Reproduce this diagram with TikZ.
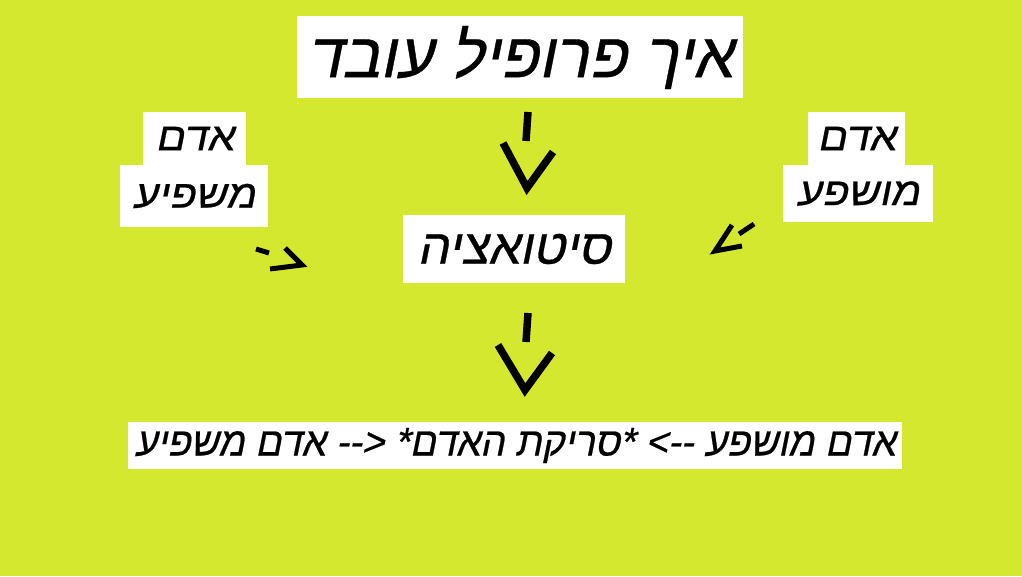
\documentclass[tikz,border=0pt]{standalone}
\usepackage{fontspec}
\usepackage{tikz}
\usetikzlibrary{positioning,calc}
\TeXXeTstate=1
\newfontfamily\titlefont[Script=Hebrew,Ligatures=TeXOff,FakeSlant=0.2,FakeStretch=1.0,FakeBold=0.6]{Liberation Sans}
\newfontfamily\midfont[Script=Hebrew,Ligatures=TeXOff,FakeSlant=0.2,FakeStretch=1.02,FakeBold=0.6]{Liberation Sans}
\newfontfamily\labelfont[Script=Hebrew,Ligatures=TeXOff,FakeSlant=0.2,FakeStretch=1.1,FakeBold=0.6]{Liberation Sans}
\newfontfamily\rowfont[Script=Hebrew,Ligatures=TeXOff,FakeSlant=0.2,FakeStretch=0.96,FakeBold=0.6]{Liberation Sans}
\definecolor{limebg}{RGB}{212,232,48}
\tikzset{
  whitebox/.style={fill=white,inner sep=0pt,anchor=center},
  arrowstroke/.style={line width=7.5pt,line cap=butt,line join=miter},
  sidestroke/.style={line width=5pt,line cap=butt,line join=miter}
}

\begin{document}
\begin{tikzpicture}[x=1pt,y=1pt]
\fill[limebg] (0,0) rectangle (1022,576);
\useasboundingbox (0,0) rectangle (1022,576);

\draw (520,518.5) node[whitebox,minimum width=446pt,minimum height=82pt,font=\titlefont\fontsize{63}{66}\selectfont] (title) {\beginR איך פרופיל עובד\endR};

\draw (514,327) node[whitebox,minimum width=222pt,minimum height=68pt,font=\midfont\fontsize{49}{52}\selectfont] (situation) {\beginR סיטואציה\endR};

% left label
\draw (194.5,437.5) node[whitebox,minimum width=103pt,minimum height=53pt,font=\labelfont\fontsize{39}{40}\selectfont] (leftup) {\raisebox{-2pt}{\beginR אדם\endR}};
\draw (194,380) node[whitebox,minimum width=148pt,minimum height=62pt,font=\labelfont\fontsize{39}{40}\selectfont] (leftdown) {\beginR משפיע\endR};

% right label
\draw (856.5,437.5) node[whitebox,minimum width=97pt,minimum height=53pt,font=\labelfont\fontsize{39}{40}\selectfont] (rightup) {\raisebox{-2pt}{\beginR אדם\endR}};
\draw (858,382.5) node[whitebox,minimum width=150pt,minimum height=57pt,font=\labelfont\fontsize{39}{40}\selectfont] (rightdown) {\beginR מושפע\endR};

\draw (515,130.5) node[whitebox,minimum width=774pt,minimum height=47pt,font=\rowfont\fontsize{40}{42}\selectfont] (result) {\raisebox{-3pt}{\beginR אדם מושפע --> *סריקת האדם* <-- אדם משפיע\endR}};

% arrows
\coordinate (t1) at (528,464);
\coordinate (t2) at (526,435);
\coordinate (tv1) at (503,433);
\coordinate (tv2) at (527,388);
\coordinate (tv3) at (553,424);
\draw[arrowstroke] (t1) -- (t2);
\draw[arrowstroke] (tv1) -- (tv2) -- (tv3);

\coordinate (m1) at (528,263);
\coordinate (m2) at (526,234);
\coordinate (mv1) at (498,231);
\coordinate (mv2) at (525,186);
\coordinate (mv3) at (552,223);
\draw[arrowstroke] (m1) -- (m2);
\draw[arrowstroke] (mv1) -- (mv2) -- (mv3);

\coordinate (l1) at (256,327);
\coordinate (l2) at (269,323);
\coordinate (lv1) at (285,328);
\coordinate (lv2) at (302,311);
\coordinate (lv3) at (270,307);
\draw[sidestroke] (l1) -- (l2);
\draw[sidestroke] (lv1) -- (lv2) -- (lv3);

\coordinate (r1) at (754,352);
\coordinate (r2) at (739,342);
\coordinate (rv1) at (732,351);
\coordinate (rv2) at (715,325);
\coordinate (rv3) at (742,330);
\draw[sidestroke] (r1) -- (r2);
\draw[sidestroke] (rv1) -- (rv2) -- (rv3);

\end{tikzpicture}
\end{document}
